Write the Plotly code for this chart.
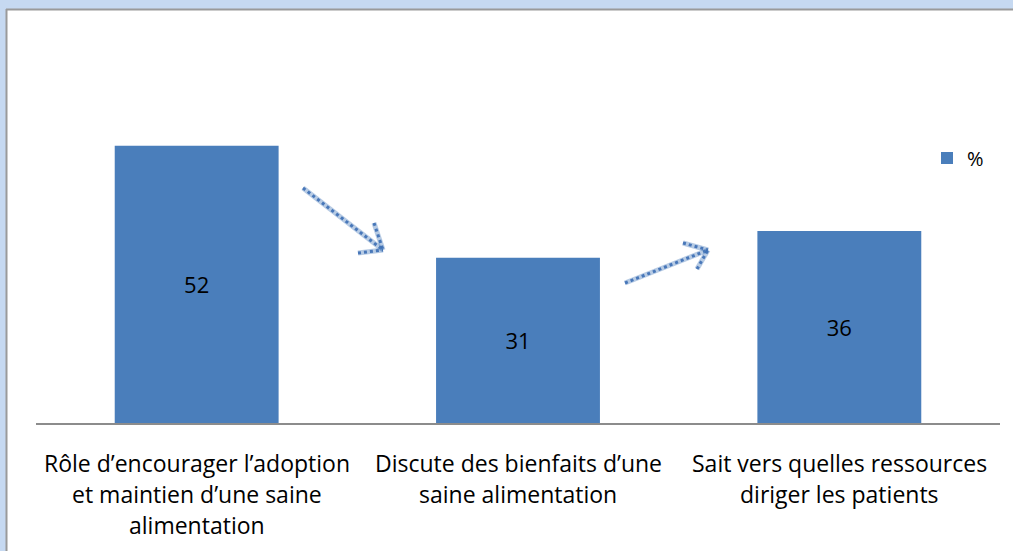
import plotly.graph_objects as go

categories = [
    "Rôle d’encourager l’adoption<br>et maintien d’une saine<br>alimentation",
    "Discute des bienfaits d’une<br>saine alimentation",
    "Sait vers quelles ressources<br>diriger les patients",
]
values = [52, 31, 36]
series_name = "%"

W, H = 1013, 551
ML, MR, MT, MB = 36, 13, 103, 128
PW, PH = W - ML - MR, H - MT - MB
BAR = "#4A7EBB"
FONT = "Open Sans"


def px(x):
    return (x - ML) / PW


def py(y):
    return (H - MB - y) / PH


fig = go.Figure()
fig.add_trace(go.Bar(
    x=list(range(len(categories))), y=values, name=series_name,
    marker=dict(color=BAR, line=dict(width=0)),
    text=[str(v) for v in values], textposition="inside",
    insidetextanchor="middle", textangle=0,
    textfont=dict(family=FONT, size=22, color="black"),
    showlegend=True,
))

annotations = []
for i, cat in enumerate(categories):
    for j, line in enumerate(cat.split("<br>")):
        annotations.append(dict(
            x=i, xref="x", y=0, yref="paper", yanchor="middle",
            yshift=-(40 + 31 * j), text=line, showarrow=False,
            font=dict(family=FONT, size=23, color="black"),
        ))

shapes = [
    dict(type="rect", xref="paper", yref="paper", x0=px(6), x1=px(W + 5),
         y0=py(H + 5), y1=py(9), fillcolor="white", line=dict(width=0), layer="below"),
    dict(type="line", xref="paper", yref="paper", x0=px(6), x1=px(W + 5),
         y0=py(9.5), y1=py(9.5), line=dict(color="#9a9a9a", width=2), layer="below"),
    dict(type="line", xref="paper", yref="paper", x0=px(6.5), x1=px(6.5),
         y0=py(9), y1=py(H + 5), line=dict(color="#9a9a9a", width=2), layer="below"),
]

# decorative hatched arrows
arrows = [
    [((303, 188), (383, 250)), ((374, 223), (383, 250)), ((358, 253), (383, 250))],
    [((625, 283), (708, 250)), ((683, 243), (708, 250)), ((697, 269), (708, 250))],
]
for arrow in arrows:
    for (a, b) in arrow:
        shapes.append(dict(type="line", xref="paper", yref="paper",
                           x0=px(a[0]), y0=py(a[1]), x1=px(b[0]), y1=py(b[1]),
                           line=dict(color="rgba(74,126,187,0.4)", width=5)))
        shapes.append(dict(type="line", xref="paper", yref="paper",
                           x0=px(a[0]), y0=py(a[1]), x1=px(b[0]), y1=py(b[1]),
                           line=dict(color="rgba(60,110,180,0.9)", width=3, dash="dot")))

fig.update_layout(
    width=W, height=H,
    margin=dict(l=ML, r=MR, t=MT, b=MB),
    paper_bgcolor="#C6D9F1", plot_bgcolor="rgba(0,0,0,0)",
    bargap=0.49,
    xaxis=dict(range=[-0.5, 2.5], showticklabels=False, showgrid=False,
               zeroline=False, showline=True, linecolor="#8c8c8c", linewidth=2,
               ticks=""),
    yaxis=dict(range=[0, 60], visible=False),
    legend=dict(x=px(927), y=py(158), xanchor="left", yanchor="middle",
                itemwidth=30,
                font=dict(family=FONT, size=20, color="black"),
                bgcolor="rgba(0,0,0,0)"),
    annotations=annotations, shapes=shapes,
    font=dict(family=FONT),
)

fig.write_html("out.html", config={"displayModeBar": False},
               post_script="document.body.style.margin='0px';")
